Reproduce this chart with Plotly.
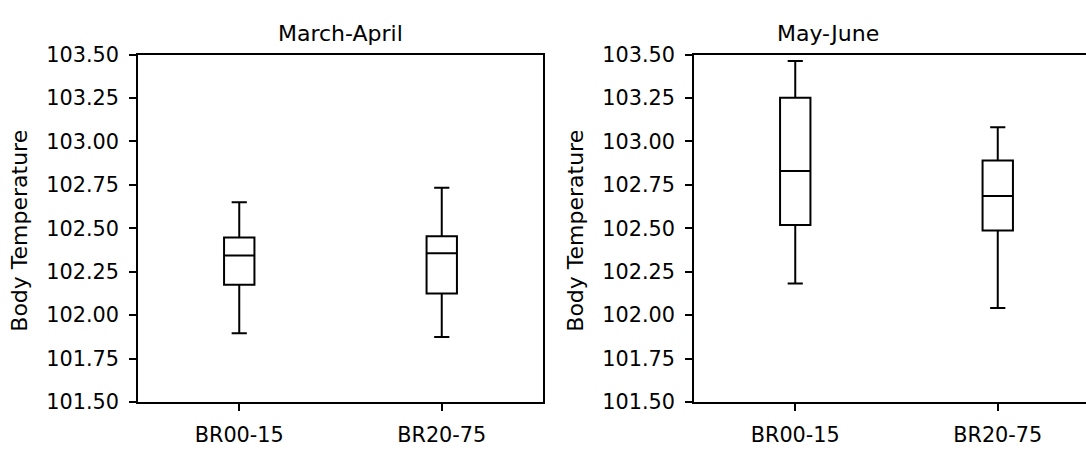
import plotly.graph_objects as go

W, H = 1086, 451

groups = ["BR00-15", "BR20-75"]
panels = ["March-April", "May-June"]

# five-number summaries per panel: [BR00-15, BR20-75]
ma_low = [101.896, 101.874]
ma_q1 = [102.176, 102.125]
ma_med = [102.343, 102.357]
ma_q3 = [102.447, 102.455]
ma_high = [102.650, 102.733]

mj_low = [102.183, 102.041]
mj_q1 = [102.519, 102.488]
mj_med = [102.830, 102.686]
mj_q3 = [103.251, 102.891]
mj_high = [103.463, 103.082]

y_ticks = [101.5, 101.75, 102.0, 102.25, 102.5, 102.75, 103.0, 103.25, 103.5]

tick_font = dict(family="DejaVu Sans", size=20.8, color="#000000")
label_font = dict(family="DejaVu Sans", size=22, color="#000000")

fig = go.Figure()

def add_box(low, q1, med, q3, high, xa, ya):
    fig.add_trace(go.Box(
        x=groups, q1=q1, median=med, q3=q3,
        lowerfence=low, upperfence=high,
        boxpoints=False, width=0.15, whiskerwidth=0.5,
        fillcolor="rgba(0,0,0,0)",
        line=dict(color="#000000", width=2),
        xaxis=xa, yaxis=ya, showlegend=False, hoverinfo="skip",
    ))

add_box(ma_low, ma_q1, ma_med, ma_q3, ma_high, "x", "y")
add_box(mj_low, mj_q1, mj_med, mj_q3, mj_high, "x2", "y2")

px = lambda p: p / W
py = lambda p: 1 - p / H

unit = 202.5  # pixels per category step
left0, left1 = 138, 543
right0 = 694

axis_common = dict(
    showline=True, linecolor="#000000", linewidth=1.6,
    ticks="outside", ticklen=7, tickcolor="#000000", tickwidth=1.6,
    showgrid=False, zeroline=False, tickfont=tick_font,
)

fig.update_layout(
    width=W, height=H,
    margin=dict(l=0, r=0, t=0, b=0),
    paper_bgcolor="white", plot_bgcolor="white",
    xaxis=dict(domain=[px(left0), px(left1)], range=[-0.5, 1.5], mirror=True,
               type="category", anchor="y", ticklabelstandoff=6, **axis_common),
    yaxis=dict(domain=[py(412), py(45)], range=[101.5, 103.5], mirror=True,
               tickvals=y_ticks, tickformat=".2f", anchor="x",
               ticklabelstandoff=6, **axis_common),
    xaxis2=dict(domain=[px(right0), 1.0],
                range=[-0.5, -0.5 + (W - right0) / unit], mirror=True,
                type="category", anchor="y2", ticklabelstandoff=6, **axis_common),
    yaxis2=dict(domain=[py(412), py(45)], range=[101.5, 103.5], mirror=False,
                tickvals=y_ticks, tickformat=".2f", anchor="x2",
                ticklabelstandoff=6, **axis_common),
)

annotations = [
    dict(text=panels[0], x=px((left0 + left1) / 2), y=py(23), xref="paper", yref="paper",
         showarrow=False, font=label_font, xanchor="center", yanchor="middle"),
    dict(text=panels[1], x=px(828), y=py(23), xref="paper", yref="paper",
         showarrow=False, font=label_font, xanchor="center", yanchor="middle"),
    dict(text="Body Temperature", x=px(20), y=py(231), xref="paper", yref="paper",
         showarrow=False, font=label_font, textangle=-90, xanchor="center", yanchor="middle"),
    dict(text="Body Temperature", x=px(576), y=py(231), xref="paper", yref="paper",
         showarrow=False, font=label_font, textangle=-90, xanchor="center", yanchor="middle"),
]
fig.update_layout(annotations=annotations)

fig.write_html("out.html")
